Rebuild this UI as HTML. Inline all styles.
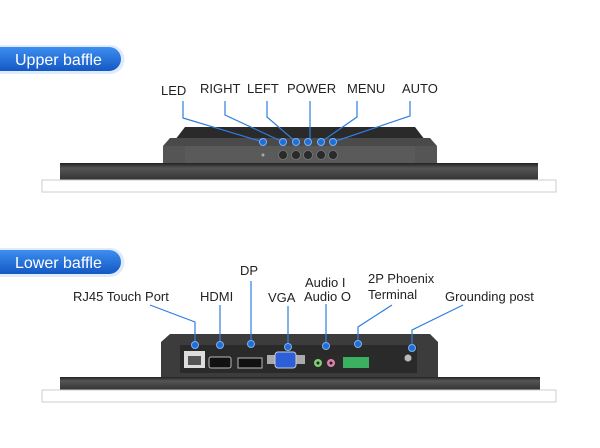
<!DOCTYPE html>
<html><head><meta charset="utf-8"><style>
body{margin:0;background:#fff}
svg{display:block}
text{font-family:"Liberation Sans",sans-serif;fill:#222}
</style></head><body>
<svg width="600" height="448" viewBox="0 0 600 448">
<defs>
<linearGradient id="bg" x1="0" y1="0" x2="0" y2="1"><stop offset="0" stop-color="#3d8ef0"/><stop offset="1" stop-color="#1458c4"/></linearGradient>
<linearGradient id="bar" x1="0" y1="0" x2="0" y2="1"><stop offset="0" stop-color="#222"/><stop offset="0.3" stop-color="#555"/><stop offset="1" stop-color="#333"/></linearGradient>
</defs>
<!-- Upper badge -->
<path d="M0,45 H110 A14,14 0 0 1 110,74 H0 Z" fill="#dfeafa"/>
<path d="M0,47 H109 A12,12 0 0 1 109,71 H0 Z" fill="url(#bg)"/>
<text x="15" y="65" font-size="16" style="fill:#fff">Upper baffle</text>
<!-- Upper labels -->
<g font-size="13">
<text x="161" y="95">LED</text><text x="200" y="93">RIGHT</text><text x="247" y="93">LEFT</text>
<text x="287" y="93">POWER</text><text x="347" y="93">MENU</text><text x="402" y="93">AUTO</text>
</g>
<!-- Upper device -->
<path d="M175,140 L185,127 H415 L425,140 Z" fill="#2a2a2a"/>
<path d="M163,146 L170,138 H430 L437,146 V163 H163 Z" fill="#4a4a4a"/>
<rect x="163" y="146" width="274" height="17" fill="#555"/>
<rect x="185" y="146" width="230" height="17" fill="#5a5a5a"/>
<rect x="60" y="163" width="478" height="17" fill="url(#bar)"/>
<rect x="42" y="180" width="514" height="12" fill="#fff" stroke="#ccc"/>
<circle cx="263" cy="155" r="1.5" fill="#aaa"/>
<g fill="#2a2a2a" stroke="#777" stroke-width="0.8">
<circle cx="283" cy="155" r="4.5"/><circle cx="296" cy="155" r="4.5"/><circle cx="308" cy="155" r="4.5"/><circle cx="321" cy="155" r="4.5"/><circle cx="333" cy="155" r="4.5"/>
</g>
<g stroke="#2f7de0" stroke-width="1.2" fill="none">
<polyline points="183,101 183,118 263,142"/>
<polyline points="225,101 225,115 283,142"/>
<polyline points="267,101 267,117 296,142"/>
<polyline points="310,101 310,142"/>
<polyline points="357,101 357,117 321,142"/>
<polyline points="410,101 410,116 333,142"/>
</g>
<g fill="#1f6fd8" stroke="#7fb0f0" stroke-width="1">
<circle cx="263" cy="142" r="3.5"/><circle cx="283" cy="142" r="3.5"/><circle cx="296" cy="142" r="3.5"/><circle cx="308" cy="142" r="3.5"/><circle cx="321" cy="142" r="3.5"/><circle cx="333" cy="142" r="3.5"/>
</g>
<!-- Lower badge -->
<path d="M0,248 H110 A14,14 0 0 1 110,277 H0 Z" fill="#dfeafa"/>
<path d="M0,250 H109 A12,12 0 0 1 109,274 H0 Z" fill="url(#bg)"/>
<text x="15" y="268" font-size="16" style="fill:#fff">Lower baffle</text>
<g font-size="13">
<text x="73" y="301">RJ45 Touch Port</text><text x="200" y="301">HDMI</text><text x="240" y="275">DP</text>
<text x="268" y="302">VGA</text><text x="305" y="287">Audio I</text><text x="304" y="301">Audio O</text>
<text x="368" y="283">2P Phoenix</text><text x="368" y="299">Terminal</text><text x="445" y="301">Grounding post</text>
</g>
<!-- Lower device -->
<path d="M161,377 V342 L170,334 H430 L438,342 V377 Z" fill="#3c3c3c"/>
<rect x="180" y="345" width="237" height="28" fill="#2a2a2a"/>
<rect x="60" y="377" width="480" height="13" fill="url(#bar)"/>
<rect x="42" y="390" width="514" height="12" fill="#fff" stroke="#ccc"/>
<rect x="184" y="351" width="21" height="17" fill="#ddd"/><rect x="188" y="356" width="13" height="9" fill="#555"/>
<rect x="209" y="357" width="22" height="11" rx="2" fill="#111" stroke="#bbb"/>
<rect x="238" y="358" width="24" height="10" fill="#111" stroke="#bbb"/>
<rect x="267" y="355" width="38" height="9" fill="#aaa"/>
<rect x="275" y="352" width="21" height="16" rx="3" fill="#2c5fd8" stroke="#ccc"/>
<circle cx="318" cy="363" r="4" fill="#7fcf6f"/><circle cx="318" cy="363" r="1.5" fill="#222"/>
<circle cx="331" cy="363" r="4" fill="#e080a8"/><circle cx="331" cy="363" r="1.5" fill="#222"/>
<rect x="343" y="357" width="26" height="11" fill="#3ab060"/>
<circle cx="408" cy="358" r="3.5" fill="#bbb"/>
<g stroke="#2f7de0" stroke-width="1.2" fill="none">
<polyline points="150,305 195,322 195,345"/>
<polyline points="220,305 220,345"/>
<polyline points="251,281 251,344"/>
<polyline points="288,306 288,347"/>
<polyline points="326,304 326,346"/>
<polyline points="392,305 358,327 358,344"/>
<polyline points="463,305 412,330 412,348"/>
</g>
<g fill="#1f6fd8" stroke="#7fb0f0" stroke-width="1">
<circle cx="195" cy="345" r="3.5"/><circle cx="220" cy="345" r="3.5"/><circle cx="251" cy="344" r="3.5"/><circle cx="288" cy="347" r="3.5"/><circle cx="326" cy="346" r="3.5"/><circle cx="358" cy="344" r="3.5"/><circle cx="412" cy="348" r="3.5"/>
</g>
</svg>
</body></html>
